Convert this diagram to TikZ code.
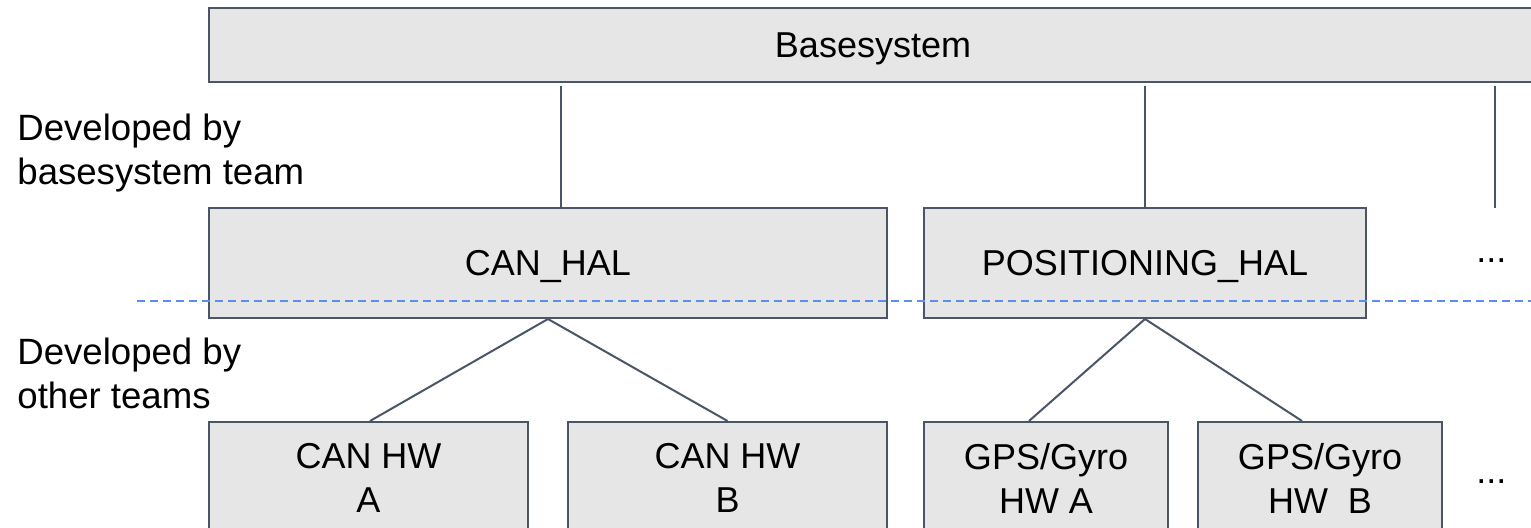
\documentclass[tikz,border=0pt]{standalone}
\usepackage{fontspec}
\setmainfont{Liberation Sans}
\usetikzlibrary{calc}
\definecolor{boxfill}{HTML}{E6E6E6}
\definecolor{boxline}{HTML}{4A5568}
\definecolor{splitline}{HTML}{5B8EF0}

\begin{document}
\begin{tikzpicture}[x=0.5pt,y=-0.5pt,
  box/.style={draw=boxline, fill=boxfill, line width=1pt, inner sep=0pt,
              font=\fontsize{18}{22}\selectfont, align=center},
  onebox/.style={box, text height=12.9pt, text depth=0pt},
  hwwide/.style={box, minimum width=159.5pt, minimum height=56pt},
  hwnarrow/.style={box, minimum width=122pt, minimum height=56pt},
  link/.style={draw=boxline, line width=1pt},
  note/.style={font=\fontsize{18.3}{22.3}\selectfont, align=left,
               anchor=base west, inner sep=0pt},
  dots/.style={font=\fontsize{18}{22}\selectfont, anchor=base west, inner sep=0pt},
  split/.style={draw=splitline, line width=1pt, dash pattern=on 4pt off 2.5pt}]

\useasboundingbox (0,0) rectangle (1531,528);
\clip (0,0) rectangle (1531,528);

% top level
\node[onebox, minimum width=664pt, minimum height=37pt] (base) at (873,45) {Basesystem};

% hardware abstraction layers
\node[onebox, minimum width=339pt, minimum height=55pt] (canhal) at (548,263) {CAN\_HAL};
\node[onebox, minimum width=221pt, minimum height=55pt] (poshal) at (1145,263) {POSITIONING\_HAL};
\node[dots] (moreHal) at (1476,263) {...};

% hardware drivers
\node[hwwide]   (canA) at (368.5,478) {CAN HW\\A};
\node[hwwide]   (canB) at (727.5,478) {CAN HW\\B};
\node[hwnarrow] (gpsA) at (1046,478) {GPS/Gyro\\HW A};
\node[hwnarrow] (gpsB) at (1320,478) {GPS/Gyro\\HW\ \ B};
\node[dots] (moreHw) at (1476,484) {...};

% side notes (anchored on the baseline of their last line)
\node[note] (noteBase)  at (17,185) {Developed by\\basesystem team};
\node[note] (noteOther) at (17,409) {Developed by\\other teams};

% connectors from the base system
\draw[link] ($(canhal.north)+(13,0)$) -- ($(canhal.north |- base.south)+(13,3)$);
\draw[link] (poshal.north) -- ($(poshal.north |- base.south)+(0,3)$);
\coordinate (moreTop) at (1495,208);
\draw[link] (moreTop) -- ($(moreTop |- base.south)+(0,3)$);

% connectors to the hardware drivers
\draw[link] (canhal.south) -- ($(canA.north)+(1.5,0)$);
\draw[link] (canhal.south) -- (canB.north);
\draw[link] (poshal.south) -- ($(gpsA.north)+(-17,0)$);
\draw[link] (poshal.south) -- ($(gpsB.north)+(-18,0)$);

% team boundary
\coordinate (splitL) at (137,301);
\coordinate (splitR) at (1531,301);
\draw[split] (splitL) -- (splitR);
\end{tikzpicture}
\end{document}
